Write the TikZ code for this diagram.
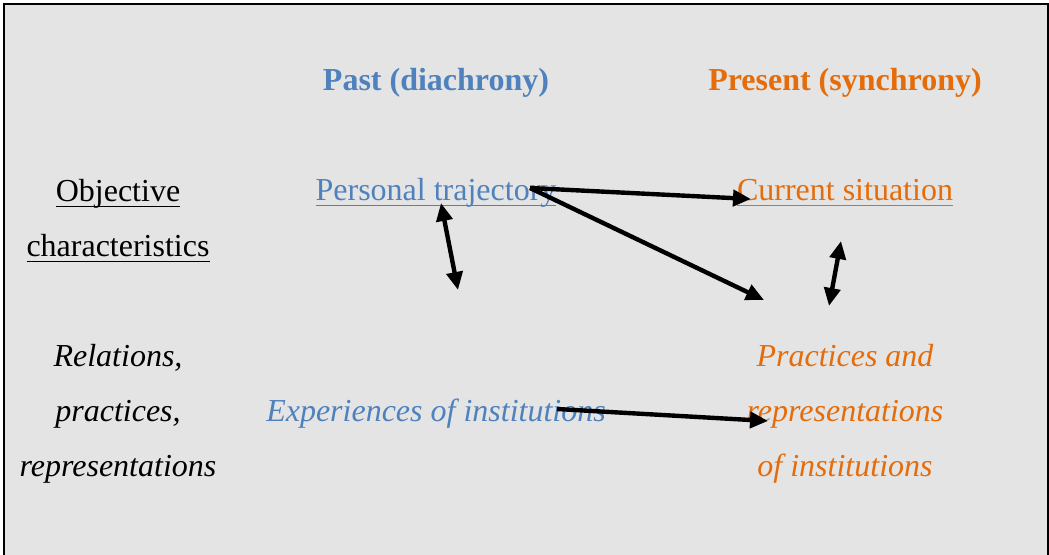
\documentclass[tikz,border=0pt]{standalone}
\usepackage{fontspec}
\setmainfont{Liberation Serif}
\usetikzlibrary{arrows.meta, positioning, calc}
\definecolor{pastblue}{RGB}{79,129,189}
\definecolor{presorange}{RGB}{228,108,10}
\definecolor{panelgray}{RGB}{228,228,228}
\newcommand{\undl}[1]{\setbox0\hbox{#1}\rlap{\rule[-2.6pt]{\wd0}{0.7pt}}\box0}

\begin{document}
\begin{tikzpicture}[x=0.5pt, y=-0.5pt, >={Triangle[length=9pt, width=8pt]}]
    \tikzset{
		txt/.style={inner sep=0pt, align=center, font=\fontsize{16}{27.5}\selectfont},
		heading/.style={txt, font=\fontsize{16}{27.5}\selectfont\bfseries},
		past/.style={text=pastblue},
		present/.style={text=presorange},
		link/.style={line width=2.2pt, ->},
		twoway/.style={line width=2.2pt, <->}
	}
	% --- Fondo y marco ---
	\useasboundingbox (0,0) rectangle (1049,555);
	\draw[line width=1pt, fill=panelgray] (4,4) rectangle (1048,590);

	% --- Encabezados ---
	\node[heading, past, anchor=base] (past) at (436,91) {Past (diachrony)};
	\node[heading, present, anchor=base] (present) at (845,91) {Present (synchrony)};

	% --- Fila superior ---
	\node[txt] (obj) at (118,221) {\undl{Objective}\\ \undl{characteristics}};
	\node[txt, past, anchor=base] (traj) at (436,201) {\undl{Personal trajectory}};
	\node[txt, present, anchor=base] (sit) at (845,201) {\undl{Current situation}};

	% --- Fila inferior ---
	\node[txt, font=\fontsize{16}{27.5}\selectfont\itshape] (rel) at (118,414) {Relations,\\ practices,\\ representations};
	\node[txt, past, font=\fontsize{16}{27.5}\selectfont\itshape, anchor=base] (exp) at (436,422) {Experiences of institutions};
	\node[txt, present, font=\fontsize{16}{27.5}\selectfont\itshape] (prac) at (845,414) {Practices and\\ representations\\ of institutions};

	% --- Puntos de salida y llegada ---
	\coordinate (traj_out) at (530,188);
	\coordinate (sit_in) at (751,199);
	\coordinate (prac_in) at (764,300);
	\coordinate (traj_up) at (441,203);
	\coordinate (traj_down) at (458,290);
	\coordinate (sit_down) at (841,241);
	\coordinate (prac_up) at (829,306);
	\coordinate (exp_out) at (557,409);
	\coordinate (rep_in) at (768,421);

	% --- Conexiones ---
	\draw[link] (traj_out) -- (sit_in);
	\draw[link] (traj_out) -- (prac_in);
	\draw[twoway] (traj_up) -- (traj_down);
	\draw[twoway] (sit_down) -- (prac_up);
	\draw[link] (exp_out) -- (rep_in);
\end{tikzpicture}
\end{document}
